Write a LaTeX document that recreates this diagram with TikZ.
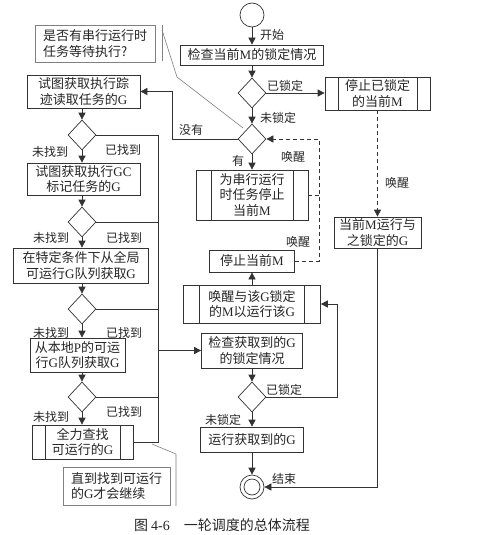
\documentclass[tikz,border=0pt]{standalone}
\usepackage{fontspec}
\setmainfont{Noto Sans CJK SC}
\newfontfamily\latf{Liberation Serif}
\newcommand\myl[1]{{\latf #1}}
\usetikzlibrary{shapes.geometric,arrows.meta}
\definecolor{lc}{HTML}{333333}
\definecolor{nc}{HTML}{808080}
\begin{document}
\begin{tikzpicture}[x=1pt,y=-1pt,
  box/.style={draw=lc, line width=0.7pt, fill=white, align=center, inner sep=1pt,
    font=\fontsize{13}{15.5}\selectfont, text=black!85},
  pp/.style={box, path picture={
    \draw[lc, line width=0.7pt] ([xshift=#1]path picture bounding box.north west) -- ([xshift=#1]path picture bounding box.south west);
    \draw[lc, line width=0.7pt] ([xshift=-#1]path picture bounding box.north east) -- ([xshift=-#1]path picture bounding box.south east);}},
  dia/.style={draw=lc, line width=0.7pt, diamond, minimum width=28pt, minimum height=30pt, inner sep=0pt, fill=white},
  lab/.style={font=\fontsize{12}{14}\selectfont, inner sep=0pt, text=black!85},
  ln/.style={draw=lc, line width=0.7pt},
  arr/.style={ln, -{Triangle[length=7pt,width=7pt]}},
  dsh/.style={ln, dash pattern=on 4pt off 3pt},
  darr/.style={dsh, -{Triangle[length=7pt,width=7pt]}},
  note/.style={box, draw=nc, align=left},
  nl/.style={draw=nc, line width=0.6pt}
]
\useasboundingbox[fill=white] (0,0) rectangle (500,535);

% ---- centre column ----
\node[draw=lc, line width=0.7pt, circle, minimum size=24pt, inner sep=0pt] (start) at (252,15) {};
\node[box, minimum width=143pt, minimum height=20pt] (chk) at (252,55) {检查当前\myl{M}的锁定情况};
\node[dia] (d1) at (252,93) {};
\node[pp=13pt, minimum width=105pt, minimum height=33pt] (stopL) at (377.5,93.5) {停止已锁定\\的当前\myl{M}};
\node[dia] (d2) at (252,139) {};
\node[pp=15pt, minimum width=112pt, minimum height=50pt] (serial) at (252,195) {为串行运行\\时任务停止\\当前\myl{M}};
\node[box, minimum width=85pt, minimum height=22pt] (stopM) at (252,261) {停止当前\myl{M}};
\node[pp=16pt, minimum width=137pt, minimum height=38pt] (wake) at (252,304) {唤醒与该\myl{G}锁定\\的\myl{M}以运行该\myl{G}};
\node[box, minimum width=101pt, minimum height=35pt] (chkG) at (252,350.5) {检查获取到的\myl{G}\\的锁定情况};
\node[dia] (d3) at (252,397) {};
\node[box, minimum width=103pt, minimum height=25pt] (run) at (252,439.5) {运行获取到的\myl{G}};
\node[draw=lc, line width=0.7pt, circle, minimum size=24pt, inner sep=0pt] (end) at (252,487) {};
\draw[ln] (end.center) circle (8pt);
\node[box, minimum width=87pt, minimum height=31pt] (curM) at (377.5,232.5) {当前\myl{M}运行与\\之锁定的\myl{G}};

% ---- left column ----
\node[note, minimum width=120pt, minimum height=37pt] (note1) at (95,43.5) {是否有串行运行时\\任务等待执行?};
\node[box, minimum width=113pt, minimum height=33pt] (trace) at (83.5,91.5) {试图获取执行踪\\迹读取任务的\myl{G}};
\node[dia] (dA) at (82,135) {};
\node[box, minimum width=113pt, minimum height=32pt] (gc) at (83.5,179) {试图获取执行\myl{GC}\\标记任务的\myl{G}};
\node[dia] (dB) at (82,222) {};
\node[box, minimum width=135pt, minimum height=35pt] (glob) at (81,265.5) {在特定条件下从全局\\可运行\myl{G}队列获取\myl{G}};
\node[dia] (dC) at (82,309) {};
\node[box, minimum width=95pt, minimum height=34pt] (local) at (77.5,355) {从本地\myl{P}的可运\\行\myl{G}队列获取\myl{G}};
\node[dia] (dD) at (82,397) {};
\node[pp=13pt, minimum width=101pt, minimum height=34pt] (full) at (82.5,442) {全力查找\\可运行的\myl{G}};
\node[note, minimum width=107pt, minimum height=38pt] (note2) at (116.5,486) {直到找到可运行\\的\myl{G}才会继续};

% ---- coordinates ----
\coordinate (c1) at (172,91.5);
\coordinate (bus) at (158,442);
\coordinate (dv) at (319,261);
\coordinate (rb) at (337,304);
\coordinate (n1a) at (162,25);
\coordinate (n1b) at (162,61);
\coordinate (n1e) at (162,30);
\coordinate (n1c) at (177,77);
\coordinate (n1d) at (243,128);
\coordinate (n2a) at (152,444);
\coordinate (n2b) at (176,454);
\coordinate (n2c) at (176,506);

% ---- connectors centre ----
\draw[arr] (start) -- (chk);
\draw[arr] (chk) -- (d1);
\draw[arr] (d1.east) -- (d1.east -| stopL.west);
\draw[arr] (d1) -- (d2);
\draw[arr] (d2.west) -| (c1) -- (trace.east);
\draw[arr] (d2) -- (serial);
\draw[dsh] (serial.east) -- (serial.east -| dv);
\draw[darr] (stopM.east) -- (dv) |- (d2.east);
\draw[darr] (stopL.south) -- (stopL.south |- curM.north);
\draw[arr] (curM.south) |- (end.east);
\draw[arr] (wake) -- (stopM);
\draw[arr] (chkG) -- (d3);
\draw[arr] (d3.east) -| (rb) -- (wake.east);
\draw[arr] (d3) -- (run);
\draw[arr] (run) -- (end);

% ---- connectors left ----
\draw[arr] (trace.south -| dA) -- (dA.north);
\draw[arr] (dA) -- (dA |- gc.north);
\draw[arr] (gc.south -| dB) -- (dB.north);
\draw[arr] (dB) -- (dB |- glob.north);
\draw[arr] (glob.south -| dC) -- (dC.north);
\draw[arr] (dC) -- (dC |- local.north);
\draw[arr] (local.south -| dD) -- (dD.north);
\draw[arr] (dD) -- (dD |- full.north);
\draw[ln] (dA.east) -| (bus) -- (full.east);
\draw[ln] (dB.east) -- (dB.east -| bus);
\draw[ln] (dC.east) -- (dC.east -| bus);
\draw[ln] (dD.east) -- (dD.east -| bus);
\draw[arr] (chkG.west -| bus) -- (chkG.west);

% ---- callout lines ----
\draw[nl] (n1a) -- (n1b);
\draw[nl] (n1e) -- (n1c) -- (n1d);
\draw[nl] (n2a) -- (n2b) -- (n2c);

% ---- labels ----
\node[lab] (lstart) at (272,35) {开始};
\node[lab] (ld1y) at (285,86) {已锁定};
\node[lab] (ld1n) at (278,118) {未锁定};
\node[lab] (lno) at (191,130) {没有};
\node[lab] (lyes) at (238,161) {有};
\node[lab] (lw1) at (293,157) {唤醒};
\node[lab] (lw2) at (298,242) {唤醒};
\node[lab] (lw3) at (397,183) {唤醒};
\node[lab] (ld3y) at (284,390) {已锁定};
\node[lab] (ld3n) at (223,420) {未锁定};
\node[lab] (lend) at (284,479) {结束};
\node[lab] (lAn) at (50,152) {未找到};
\node[lab] (lAy) at (123,150) {已找到};
\node[lab] (lBn) at (51,238) {未找到};
\node[lab] (lBy) at (124,238) {已找到};
\node[lab] (lCn) at (51,333) {未找到};
\node[lab] (lCy) at (124,333) {已找到};
\node[lab] (lDn) at (51,417) {未找到};
\node[lab] (lDy) at (124,412) {已找到};

% ---- caption ----
\node[font=\fontsize{14}{16}\selectfont, inner sep=0pt, text=black!85] (cap) at (222,525) {图 \myl{4-6}\quad 一轮调度的总体流程};
\end{tikzpicture}
\end{document}
